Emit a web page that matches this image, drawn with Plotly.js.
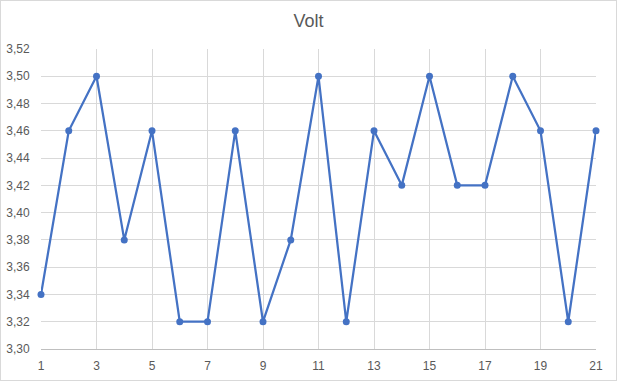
<!DOCTYPE html>
<html><head><meta charset="utf-8">
<script src="https://cdn.plot.ly/plotly-3.0.1.min.js"></script>
<style>
html,body{margin:0;padding:0;background:#fff;}
#wrap{position:relative;width:617px;height:381px;}
#chart{width:617px;height:381px;}
#border{position:absolute;left:0;top:0;width:615px;height:379px;border:1px solid #d9d9d9;pointer-events:none;}
</style></head>
<body><div id="wrap"><div id="chart"></div><div id="border"></div></div>
<script>
const xValues = [1,2,3,4,5,6,7,8,9,10,11,12,13,14,15,16,17,18,19,20,21];
const voltValues = [3.34,3.46,3.50,3.38,3.46,3.32,3.32,3.46,3.32,3.38,3.50,3.32,3.46,3.42,3.50,3.42,3.42,3.50,3.46,3.32,3.46];
const chartTitle = "Volt";

Plotly.newPlot('chart', [{
  x: xValues, y: voltValues, type: 'scatter', mode: 'lines+markers',
  line: {color: '#4472C4', width: 2.25},
  marker: {color: '#4472C4', size: 7},
  cliponaxis: false, hoverinfo: 'none'
}], {
  width: 617, height: 381,
  margin: {l: 41, r: 21, t: 49, b: 32},
  paper_bgcolor: '#fff', plot_bgcolor: '#fff',
  separators: ',.',
  showlegend: false,
  font: {family: 'Liberation Sans, Arial, sans-serif', color: '#595959', size: 12},
  title: {text: chartTitle, x: 0.5, xanchor: 'center', y: 0.945, yanchor: 'middle',
          font: {size: 18, color: '#595959', family: 'Liberation Sans, Arial, sans-serif'}},
  xaxis: {range: [1, 21], tick0: 1, dtick: 2, showgrid: true, gridcolor: '#d9d9d9', gridwidth: 1,
          zeroline: false, showline: true, linecolor: '#bfbfbf', linewidth: 1,
          ticks: 'outside', ticklen: 6, tickcolor: 'rgba(0,0,0,0)', fixedrange: true},
  yaxis: {range: [3.30, 3.52], tick0: 3.30, dtick: 0.02, tickformat: '.2f', showgrid: true,
          gridcolor: '#d9d9d9', gridwidth: 1, zeroline: false, showline: false,
          ticks: 'outside', ticklen: 8, tickcolor: 'rgba(0,0,0,0)', fixedrange: true}
}, {staticPlot: true});
</script></body></html>
